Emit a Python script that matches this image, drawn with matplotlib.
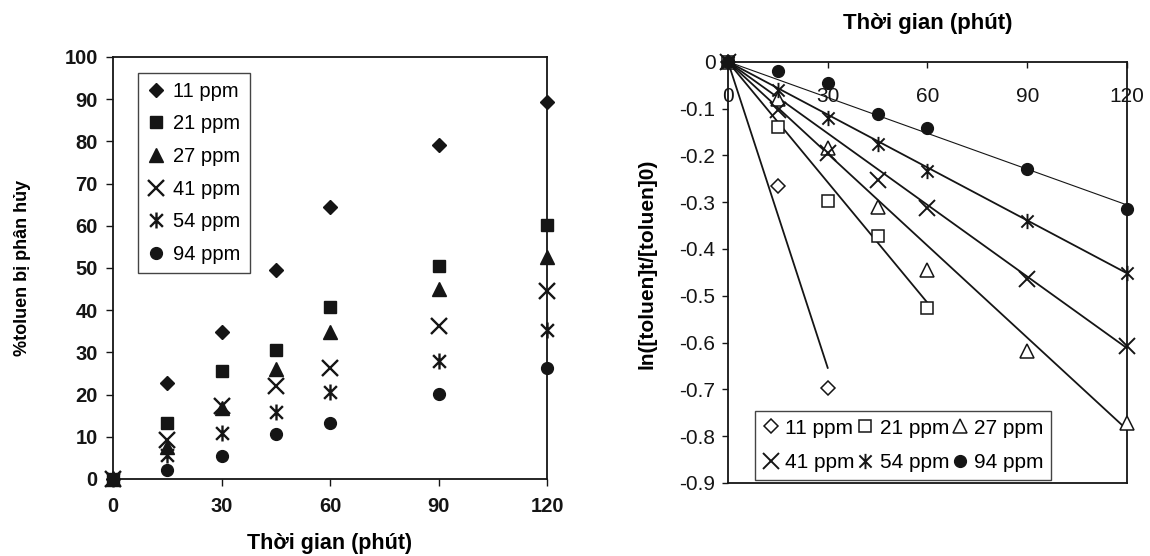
import matplotlib
matplotlib.use("Agg")
import matplotlib.pyplot as plt
from matplotlib.path import Path

plt.rcParams['font.family'] = ['Liberation Sans', 'DejaVu Sans']

# data
series_names = ["11 ppm", "21 ppm", "27 ppm", "41 ppm", "54 ppm", "94 ppm"]
time_min = [0, 15, 30, 45, 60, 90, 120]

# left panel: % toluen decomposed
pct_11 = [0, 22.7, 34.8, 49.6, 64.5, 79.2, 89.4]
pct_21 = [0, 13.3, 25.5, 30.6, 40.8, 50.4, 60.3]
pct_27 = [0, 7.5, 16.8, 26.1, 34.9, 45.0, 52.6]
pct_41 = [0, 9.3, 17.2, 22.0, 26.3, 36.3, 44.5]
pct_54 = [0, 5.8, 10.9, 15.9, 20.5, 27.9, 35.2]
pct_94 = [0, 2.2, 5.4, 10.7, 13.3, 20.2, 26.3]

# right panel: ln([toluen]t/[toluen]0)
ln_11 = [0, -0.265, -0.696]
ln_21 = [0, -0.140, -0.297, -0.372, -0.526]
ln_27 = [0, -0.080, -0.185, -0.311, -0.444, -0.619, -0.772]
ln_41 = [0, -0.103, -0.194, -0.252, -0.313, -0.464, -0.607]
ln_54 = [0, -0.060, -0.121, -0.176, -0.233, -0.341, -0.452]
ln_94 = [0, -0.019, -0.046, -0.112, -0.142, -0.230, -0.314]

# end points of the linear trend lines (all start at the origin)
fit_end_t = [30, 60, 120, 120, 120, 120]
fit_end_ln = [-0.654, -0.515, -0.786, -0.612, -0.452, -0.306]

x_ticks = [0, 30, 60, 90, 120]
pct_ticks = list(range(0, 101, 10))
ln_ticks = [0, -0.1, -0.2, -0.3, -0.4, -0.5, -0.6, -0.7, -0.8, -0.9]
ln_tick_labels = ["0", "-0.1", "-0.2", "-0.3", "-0.4", "-0.5", "-0.6", "-0.7", "-0.8", "-0.9"]

# Excel-like star: an X with a vertical bar
star = Path([(-1, -1), (1, 1), (-1, 1), (1, -1), (0, -1.25), (0, 1.25)],
            [Path.MOVETO, Path.LINETO, Path.MOVETO, Path.LINETO, Path.MOVETO, Path.LINETO])

ink = "#151515"

fig = plt.figure(figsize=(11.5, 5.56), dpi=100)
fig.patch.set_facecolor("white")

# ---------- left panel ----------
ax1 = fig.add_axes([0.0983, 0.1385, 0.3774, 0.759])
pct_series = [pct_11, pct_21, pct_27, pct_41, pct_54, pct_94]
left_styles = [
    dict(marker="D", ms=7.5, mfc=ink, mec=ink),
    dict(marker="s", ms=8, mfc=ink, mec=ink),
    dict(marker="^", ms=9.5, mfc=ink, mec=ink),
    dict(marker="x", ms=11.5, mec=ink, mew=1.7),
    dict(marker=star, ms=11.5, mec=ink, mew=1.7),
    dict(marker="o", ms=8.5, mfc=ink, mec=ink),
]
for name, vals, st in zip(series_names, pct_series, left_styles):
    ax1.plot(time_min, vals, linestyle="none", label=name, clip_on=False, zorder=3, **st)

ax1.set_xlim(0, 120)
ax1.set_ylim(0, 100)
ax1.set_xticks(x_ticks)
ax1.set_yticks(pct_ticks)
ax1.tick_params(axis="both", direction="out", length=5, width=1, colors=ink, labelsize=14.5)
for lbl in ax1.get_xticklabels() + ax1.get_yticklabels():
    lbl.set_fontweight("bold")
ax1.tick_params(axis="x", pad=8)
ax1.tick_params(axis="y", pad=6)
for sp in ax1.spines.values():
    sp.set_linewidth(1.3)
    sp.set_color(ink)
ax1.set_xlabel("Thời gian (phút)", fontsize=15.5, fontweight="bold", labelpad=12)
ax1.set_ylabel("%toluen bị phân hủy", fontsize=13, fontweight="bold")
ax1.yaxis.set_label_coords(-0.19, 0.5)

leg1 = ax1.legend(loc="upper left", bbox_to_anchor=(0.058, 0.963), fontsize=14.5,
                  frameon=True, fancybox=False, edgecolor=ink, handlelength=0.9,
                  handletextpad=0.4, labelspacing=0.68, borderpad=0.45,
                  borderaxespad=0)
leg1.get_frame().set_linewidth(1.0)

# ---------- right panel ----------
ax2 = fig.add_axes([0.633, 0.1313, 0.347, 0.7577])
ln_series = [ln_11, ln_21, ln_27, ln_41, ln_54, ln_94]
right_styles = [
    dict(marker="D", ms=7, mfc="white", mec=ink, mew=1.1),
    dict(marker="s", ms=8, mfc="white", mec=ink, mew=1.1),
    dict(marker="^", ms=9.5, mfc="white", mec=ink, mew=1.1),
    dict(marker="x", ms=12, mec=ink, mew=1.4),
    dict(marker=star, ms=11, mec=ink, mew=1.4),
    dict(marker="o", ms=8.5, mfc=ink, mec=ink),
]
fit_widths = [1.3, 1.3, 1.3, 1.3, 1.3, 0.8]
handles = []
for i, (name, vals, st) in enumerate(zip(series_names, ln_series, right_styles)):
    ax2.plot([0, fit_end_t[i]], [0, fit_end_ln[i]], color=ink, lw=fit_widths[i], zorder=2)
    h, = ax2.plot(time_min[:len(vals)], vals, linestyle="none", label=name,
                  clip_on=False, zorder=3, **st)
    handles.append(h)

ax2.set_xlim(0, 120)
ax2.set_ylim(-0.9, 0)
ax2.set_xticks(x_ticks)
ax2.set_yticks(ln_ticks)
ax2.set_yticklabels(ln_tick_labels)
ax2.xaxis.set_ticks_position("top")
ax2.tick_params(axis="x", direction="in", length=4, width=1, colors=ink,
                labelsize=15, pad=-32)
ax2.tick_params(axis="y", direction="out", length=4, width=1, colors=ink,
                labelsize=15, pad=5)
for sp in ax2.spines.values():
    sp.set_linewidth(1.3)
    sp.set_color(ink)
ax2.set_ylabel("ln([toluen]t/[toluen]0)", fontsize=15, fontweight="bold")
ax2.yaxis.set_label_coords(-0.178, 0.52)
fig.text(0.8065, 0.958, "Thời gian (phút)", fontsize=16, fontweight="bold",
         ha="center", va="center")

# matplotlib fills legend columns first; reorder so rows read 11/21/27, 41/54/94
order = [0, 3, 1, 4, 2, 5]
leg2 = ax2.legend([handles[k] for k in order], [series_names[k] for k in order],
                  loc="lower left", bbox_to_anchor=(0.068, 0.008), ncol=3,
                  fontsize=15, frameon=True, fancybox=False, edgecolor=ink,
                  handlelength=0.8, handletextpad=0.3, columnspacing=0.1,
                  labelspacing=0.75, borderpad=0.35, borderaxespad=0)
leg2.get_frame().set_linewidth(1.0)

fig.savefig("out.png", dpi=100, facecolor="white")
